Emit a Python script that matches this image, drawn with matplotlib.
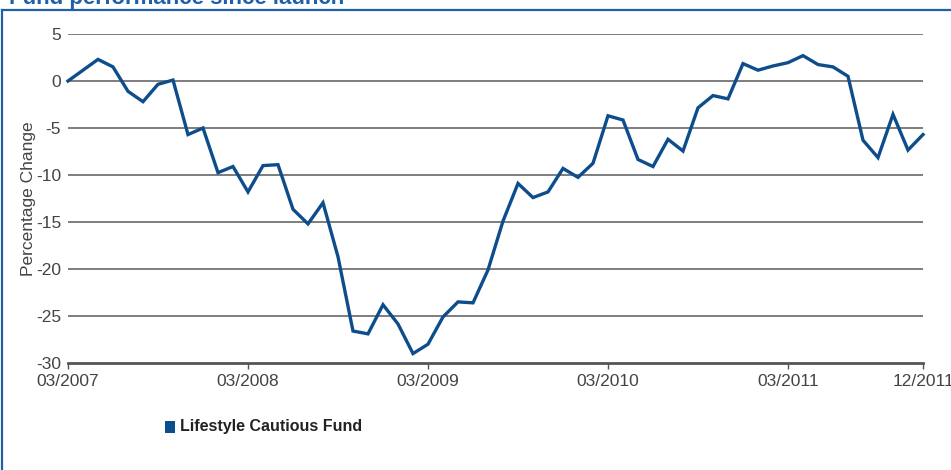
from matplotlib import pyplot as plt
from matplotlib.lines import Line2D
from matplotlib.patches import Rectangle
import numpy as np

# monthly values, 03/2007 .. 12/2011
months = np.arange(58)
change = [0.0, 1.15, 2.3, 1.5, -1.1, -2.2, -0.35, 0.1, -5.7, -5.0,
          -9.75, -9.1, -11.8, -9.0, -8.9, -13.65, -15.2, -12.95, -18.7, -26.6,
          -26.9, -23.8, -25.85, -29.0, -28.0, -25.1, -23.5, -23.6, -20.1, -14.9,
          -10.9, -12.4, -11.8, -9.3, -10.25, -8.75, -3.7, -4.15, -8.35, -9.1,
          -6.2, -7.45, -2.85, -1.55, -1.9, 1.85, 1.15, 1.6, 1.95, 2.7,
          1.75, 1.5, 0.5, -6.3, -8.15, -3.55, -7.35, -5.7]
tick_pos = [0, 12, 24, 36, 48, 57]
tick_labels = ['03/2007', '03/2008', '03/2009', '03/2010', '03/2011', '12/2011']
y_ticks = [5, 0, -5, -10, -15, -20, -25, -30]

blue = '#0e4d8c'
frame_blue = '#2060a8'
W, H = 951, 470

plt.rcParams['font.family'] = ['Liberation Sans', 'DejaVu Sans']
plt.rcParams['axes.unicode_minus'] = False

fig = plt.figure(figsize=(W / 100, H / 100), dpi=100)
ax = fig.add_axes([68 / W, 1 - 363 / H, (923 - 68) / W, (363 - 34) / H])

# gridlines
for y in y_ticks[:-1]:
    ax.axhline(y, color='#5a5a5a', linewidth=1.1, zorder=1)

ax.plot(months, change, color=blue, linewidth=2.4, zorder=3,
        solid_joinstyle='miter', clip_on=False)

ax.set_xlim(0, 57)
ax.set_ylim(-30, 5)
ax.set_yticks(y_ticks)
ax.set_xticks(tick_pos)
ax.set_xticklabels(tick_labels)
ax.tick_params(axis='y', length=0, pad=5, labelsize=12.5, labelcolor='#444444')
ax.tick_params(axis='x', length=4, width=1, color='#555555', pad=4,
               labelsize=12.5, labelcolor='#444444')
for s in ['top', 'right', 'left']:
    ax.spines[s].set_visible(False)
ax.spines['bottom'].set_color('#555555')
ax.spines['bottom'].set_linewidth(2)
ax.set_ylabel('Percentage Change', fontsize=12.5, color='#444444')
ax.yaxis.set_label_coords(-32 / 855, 0.5)
ax.patch.set_alpha(0)

# frame around the panel
fig.add_artist(Line2D([2 / W, 1], [1 - 9.5 / H, 1 - 9.5 / H],
                      color=frame_blue, linewidth=1.6, transform=fig.transFigure))
fig.add_artist(Line2D([2 / W, 2 / W], [0, 1 - 9.5 / H],
                      color=frame_blue, linewidth=1.6, transform=fig.transFigure))

# title cut by the top edge
fig.text(9 / W, 1 - 4 / H, 'Fund performance since launch', fontsize=16,
         fontweight='bold', color=frame_blue, va='baseline', ha='left')

# legend
fig.add_artist(Rectangle((165 / W, 1 - 433 / H), 10 / W, 12 / H,
                         facecolor=blue, edgecolor='none',
                         transform=fig.transFigure))
fig.text(180 / W, 1 - 427 / H, 'Lifestyle Cautious Fund', fontsize=11.5,
         fontweight='bold', color='#222222', va='center', ha='left')

fig.savefig('out.png', dpi=100)
